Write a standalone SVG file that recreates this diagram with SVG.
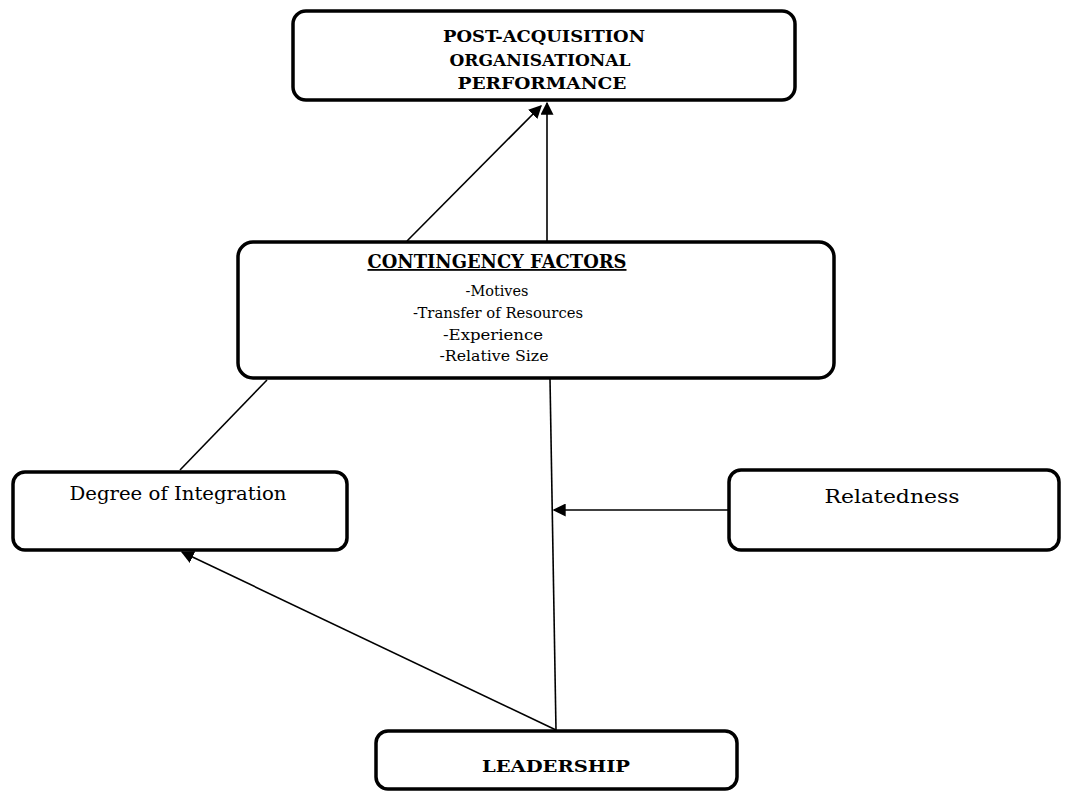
<svg xmlns="http://www.w3.org/2000/svg" width="1072" height="793" viewBox="0 0 1072 793">
<defs>
<style>
.box{fill:#fff;stroke:#000;stroke-width:3.5}
.ln{fill:none;stroke:#000;stroke-width:1.6}
.t{font-family:"DejaVu Serif","Liberation Serif",serif;fill:#000;text-anchor:middle}
.b{font-weight:bold}
</style>
<marker id="ah" viewBox="0 0 10 10" refX="9" refY="5" markerWidth="13" markerHeight="13" markerUnits="userSpaceOnUse" orient="auto">
<path d="M0,0 L10,5 L0,10 z" fill="#000"/>
</marker>
</defs>
<rect width="1072" height="793" fill="#fff"/>
<g id="connectors">
<line class="ln" x1="407" y1="241" x2="541" y2="106" marker-end="url(#ah)"/>
<line class="ln" x1="547" y1="241" x2="547" y2="103" marker-end="url(#ah)"/>
<line class="ln" x1="267" y1="380" x2="180" y2="470"/>
<line class="ln" x1="556" y1="730" x2="550" y2="379"/>
<line class="ln" x1="728" y1="510" x2="554" y2="510" marker-end="url(#ah)"/>
<line class="ln" x1="556" y1="730" x2="182" y2="552" marker-end="url(#ah)"/>
</g>
<g id="node-performance">
<rect class="box" x="293" y="11" width="502" height="89" rx="13"/>
<text class="t b" font-size="16.5" x="544" y="42" textLength="202" lengthAdjust="spacingAndGlyphs">POST-ACQUISITION</text>
<text class="t b" font-size="16.5" x="540" y="66" textLength="181" lengthAdjust="spacingAndGlyphs">ORGANISATIONAL</text>
<text class="t b" font-size="16.5" x="542" y="89" textLength="169" lengthAdjust="spacingAndGlyphs">PERFORMANCE</text>
</g>
<g id="node-contingency">
<rect class="box" x="238" y="242" width="596" height="136" rx="15"/>
<text class="t b" font-size="18" x="497" y="268" textLength="259" lengthAdjust="spacingAndGlyphs" text-decoration="underline">CONTINGENCY FACTORS</text>
<text class="t" font-size="14.5" x="497" y="296" textLength="63" lengthAdjust="spacingAndGlyphs">-Motives</text>
<text class="t" font-size="14.5" x="498" y="318" textLength="170" lengthAdjust="spacingAndGlyphs">-Transfer of Resources</text>
<text class="t" font-size="14.5" x="493" y="340" textLength="100" lengthAdjust="spacingAndGlyphs">-Experience</text>
<text class="t" font-size="14.5" x="494" y="361" textLength="109" lengthAdjust="spacingAndGlyphs">-Relative Size</text>
</g>
<g id="node-integration">
<rect class="box" x="13" y="472" width="334" height="78" rx="12"/>
<text class="t" font-size="18" x="178" y="500" textLength="217" lengthAdjust="spacingAndGlyphs">Degree of Integration</text>
</g>
<g id="node-relatedness">
<rect class="box" x="729" y="470" width="330" height="80" rx="12"/>
<text class="t" font-size="19" x="892" y="503" textLength="135" lengthAdjust="spacingAndGlyphs">Relatedness</text>
</g>
<g id="node-leadership">
<rect class="box" x="376" y="731" width="361" height="58" rx="12"/>
<text class="t b" font-size="17" x="556" y="772" textLength="148" lengthAdjust="spacingAndGlyphs">LEADERSHIP</text>
</g>
</svg>
